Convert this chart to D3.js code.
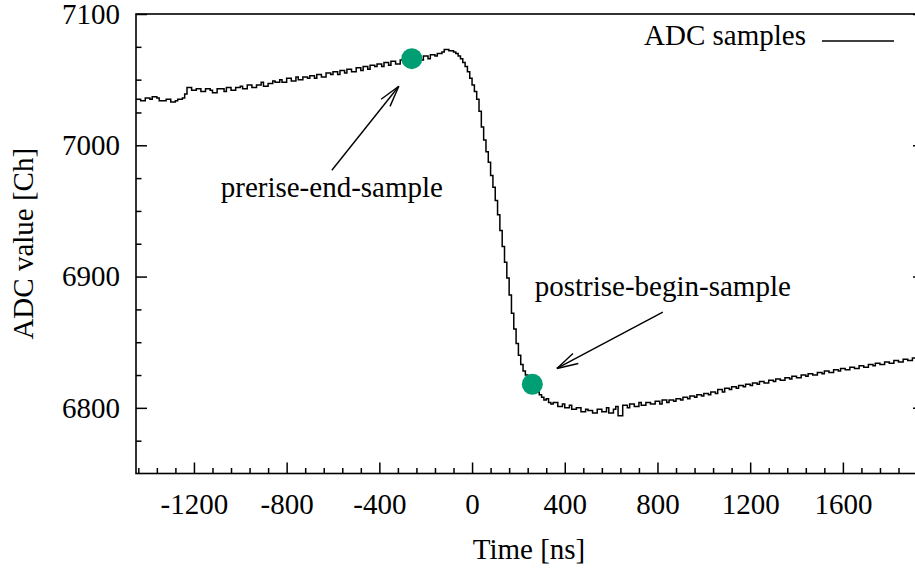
<!DOCTYPE html>
<html>
<head>
<meta charset="utf-8">
<script src="https://cdn.jsdelivr.net/npm/d3@7"></script>
<style>
  body { margin: 0; background: #fff; }
  svg { display: block; font-family: "Liberation Serif", "Times New Roman", serif; }
</style>
</head>
<body>
<div id="chart"></div>
<script>
// ADC samples, one every 10 ns starting at -1450 ns
const sampleStart = -1450;
const samplePeriod = 10;
const adcValues = [
  7035, 7035, 7034, 7034, 7036, 7036, 7035, 7037, 7037, 7036,
  7034, 7034, 7034, 7035, 7035, 7033, 7033, 7034, 7035, 7035,
  7036, 7039, 7044, 7044, 7042, 7042, 7043, 7043, 7041, 7041,
  7043, 7043, 7042, 7040, 7040, 7043, 7043, 7043, 7041, 7044,
  7044, 7042, 7042, 7044, 7044, 7045, 7043, 7043, 7046, 7046,
  7044, 7044, 7046, 7046, 7048, 7045, 7045, 7047, 7047, 7049,
  7048, 7048, 7050, 7048, 7048, 7051, 7051, 7049, 7049, 7052,
  7050, 7050, 7052, 7052, 7051, 7053, 7053, 7051, 7054, 7054,
  7052, 7052, 7055, 7055, 7054, 7056, 7056, 7054, 7057, 7057,
  7055, 7058, 7058, 7056, 7056, 7059, 7059, 7057, 7060, 7060,
  7058, 7061, 7061, 7060, 7062, 7062, 7060, 7063, 7063, 7061,
  7064, 7064, 7062, 7062, 7065, 7065, 7063, 7066, 7066, 7066,
  7064, 7067, 7067, 7065, 7068, 7068, 7066, 7069, 7069, 7068,
  7070, 7070, 7071, 7073, 7073, 7072, 7072, 7071, 7070, 7068,
  7066, 7063, 7060, 7056, 7051, 7046, 7041, 7035, 7026, 7014,
  7004, 6995, 6987, 6977, 6968, 6958, 6947, 6935, 6923, 6911,
  6899, 6886, 6872, 6860, 6849, 6840, 6833, 6828, 6825, 6822,
  6820, 6818, 6815, 6812, 6810, 6808, 6806, 6807, 6804, 6803,
  6804, 6804, 6801, 6801, 6803, 6800, 6800, 6802, 6799, 6799,
  6800, 6800, 6797, 6797, 6799, 6798, 6798, 6796, 6796, 6799,
  6799, 6797, 6797, 6800, 6796, 6796, 6799, 6801, 6794, 6794,
  6802, 6802, 6800, 6803, 6803, 6801, 6801, 6804, 6802, 6802,
  6804, 6804, 6803, 6803, 6805, 6805, 6803, 6806, 6806, 6804,
  6806, 6806, 6805, 6807, 6807, 6806, 6808, 6808, 6807, 6809,
  6809, 6808, 6810, 6810, 6809, 6811, 6811, 6810, 6812, 6812,
  6811, 6814, 6814, 6812, 6815, 6815, 6814, 6816, 6816, 6815,
  6817, 6817, 6816, 6818, 6818, 6817, 6819, 6819, 6818, 6820,
  6820, 6819, 6819, 6821, 6821, 6820, 6822, 6822, 6821, 6821,
  6823, 6823, 6822, 6824, 6824, 6823, 6823, 6825, 6825, 6824,
  6826, 6826, 6825, 6825, 6827, 6827, 6826, 6828, 6828, 6827,
  6827, 6829, 6829, 6828, 6830, 6830, 6829, 6829, 6831, 6831,
  6830, 6830, 6832, 6832, 6831, 6831, 6833, 6833, 6832, 6834,
  6834, 6833, 6833, 6835, 6835, 6834, 6834, 6836, 6836, 6835,
  6835, 6837, 6837, 6836, 6836, 6838, 6838, 6837, 6836, 6836, 6837
];

const xMajorTicks = [-1200, -800, -400, 0, 400, 800, 1200, 1600];
const yMajorTicks = [6800, 6900, 7000, 7100];

// marked samples (index into adcValues) and their annotation arrows
const markLabels = ["prerise-end-sample", "postrise-begin-sample"];
const markIndex = [119, 171];
// arrow tail / head in data coordinates [time, value]
const arrowTails = [[-605, 6981], [823, 6873]];
const arrowHeads = [[-316, 7045], [366, 6830]];
const labelBelow = [true, false];

const width = 915, height = 572;
const svg = d3.select("#chart").append("svg")
    .attr("width", width)
    .attr("height", height);

svg.append("rect").attr("width", width).attr("height", height).attr("fill", "#fff");

const x = d3.scaleLinear().domain([-1450, 1950]).range([136, 924]);
const y = d3.scaleLinear().domain([6750, 7100]).range([473.5, 14]);

const samples = adcValues.map((v, i) => ({ t: sampleStart + i * samplePeriod, v: v }));

// minor ticks
const xMinor = d3.range(-1440, 1950, 80).filter(d => !xMajorTicks.includes(d));
const yMinor = d3.range(6775, 7100, 25).filter(d => !yMajorTicks.includes(d));

const fontSize = 29;
const plain = d => String(d);   // keep ascii hyphen for negatives

// bottom axis
svg.append("g")
    .attr("transform", `translate(0,${y.range()[0]})`)
    .call(d3.axisBottom(x).tickValues(xMajorTicks).tickSize(-11).tickPadding(20).tickFormat(plain));
svg.append("g")
    .attr("transform", `translate(0,${y.range()[0]})`)
    .call(d3.axisBottom(x).tickValues(xMinor).tickSize(-5.5).tickFormat(""));

// left axis
svg.append("g")
    .attr("transform", `translate(${x.range()[0]},0)`)
    .call(d3.axisLeft(y).tickValues(yMajorTicks).tickSize(-11).tickPadding(16).tickFormat(plain));
svg.append("g")
    .attr("transform", `translate(${x.range()[0]},0)`)
    .call(d3.axisLeft(y).tickValues(yMinor).tickSize(-5.5).tickFormat(""));

// right mirror ticks
svg.append("g")
    .attr("transform", `translate(${x.range()[1]},0)`)
    .call(d3.axisRight(y).tickValues(yMajorTicks).tickSize(-11).tickFormat(""));
svg.append("g")
    .attr("transform", `translate(${x.range()[1]},0)`)
    .call(d3.axisRight(y).tickValues(yMinor).tickSize(-5.5).tickFormat(""));

svg.selectAll(".domain").remove();
svg.selectAll(".tick line").attr("stroke", "#000").attr("stroke-width", 1.5);
svg.selectAll(".tick text")
    .attr("fill", "#000")
    .style("font-size", fontSize + "px")
    .style("font-family", "'Liberation Serif', 'Times New Roman', serif");

// data as steps
const line = d3.line()
    .x(d => x(d.t))
    .y(d => y(d.v))
    .curve(d3.curveStepAfter);

svg.append("path")
    .datum(samples)
    .attr("d", line)
    .attr("fill", "none")
    .attr("stroke", "#000")
    .attr("stroke-width", 1.5);

// frame
svg.append("rect")
    .attr("x", x.range()[0])
    .attr("y", y.range()[1])
    .attr("width", x.range()[1] - x.range()[0])
    .attr("height", y.range()[0] - y.range()[1])
    .attr("fill", "none")
    .attr("stroke", "#000")
    .attr("stroke-width", 1.6);

// marked points
svg.selectAll("circle.mark")
    .data(markIndex)
    .join("circle")
    .attr("class", "mark")
    .attr("cx", i => x(samples[i].t))
    .attr("cy", i => y(samples[i].v))
    .attr("r", 10.5)
    .attr("fill", "#009e73");

// arrows
function drawArrow(tail, head) {
    const x1 = x(tail[0]), y1 = y(tail[1]);
    const x2 = x(head[0]), y2 = y(head[1]);
    const ang = Math.atan2(y2 - y1, x2 - x1);
    const len = 22, spread = 15 * Math.PI / 180;
    const g = svg.append("g").attr("stroke", "#000").attr("stroke-width", 1.4).attr("fill", "none");
    g.append("line").attr("x1", x1).attr("y1", y1).attr("x2", x2).attr("y2", y2);
    [ang + Math.PI - spread, ang + Math.PI + spread].forEach(a => {
        g.append("line")
            .attr("x1", x2).attr("y1", y2)
            .attr("x2", x2 + len * Math.cos(a))
            .attr("y2", y2 + len * Math.sin(a));
    });
}
arrowTails.forEach((tail, k) => {
    drawArrow(tail, arrowHeads[k]);
    svg.append("text")
        .attr("x", x(tail[0]))
        .attr("y", labelBelow[k] ? y(tail[1]) + 27 : y(tail[1]) - 16)
        .attr("text-anchor", "middle")
        .style("font-size", fontSize + "px")
        .text(markLabels[k]);
});

// legend
svg.append("text")
    .attr("x", 806)
    .attr("y", 45)
    .attr("text-anchor", "end")
    .style("font-size", fontSize + "px")
    .text("ADC samples");
svg.append("line")
    .attr("x1", 822).attr("x2", 894)
    .attr("y1", 41).attr("y2", 41)
    .attr("stroke", "#000").attr("stroke-width", 1.5);

// axis titles
svg.append("text")
    .attr("x", 529)
    .attr("y", 559)
    .attr("text-anchor", "middle")
    .style("font-size", fontSize + "px")
    .text("Time [ns]");
svg.append("text")
    .attr("transform", `translate(33,${(y.range()[0] + y.range()[1]) / 2}) rotate(-90)`)
    .attr("text-anchor", "middle")
    .style("font-size", fontSize + "px")
    .text("ADC value [Ch]");
</script>
</body>
</html>
